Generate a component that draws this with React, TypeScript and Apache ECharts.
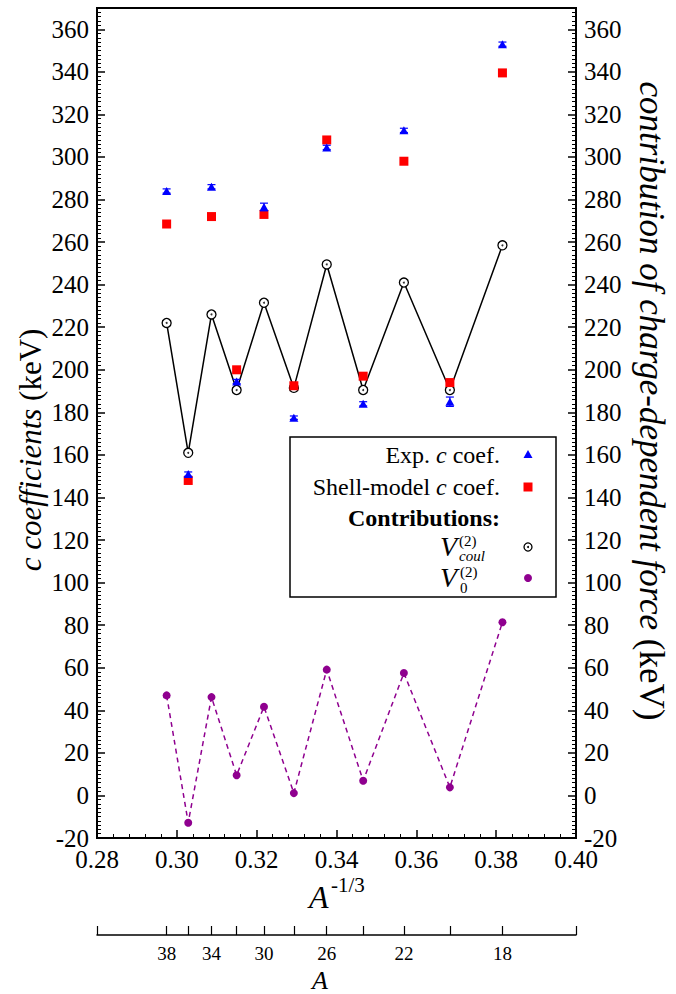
import React, { useEffect, useRef } from "react";
import * as echarts from "echarts";

// Mass numbers A of the points (x position = A^-1/3)
const massNumbers = [38, 36, 34, 32, 30, 28, 26, 24, 22, 20, 18];
// Experimental c coefficients (keV) and their uncertainties
const expC = [284, 151, 286, 194.5, 276.5, 177.5, 304.5, 184, 312.5, 185, 353];
const expErr = [1, 1, 1, 1, 1.8, 0.8, 1, 1, 1, 2.2, 1];
// Shell-model c coefficients (keV)
const smC = [268.5, 148, 272, 200, 273, 192.5, 308, 197, 298, 194, 339.5];
// Contribution V_coul^(2) (keV)
const vCoul = [222, 161, 226, 190.5, 231.5, 191.5, 249.5, 190.5, 241, 190.5, 258.5];
// Contribution V_0^(2) (keV)
const v0 = [47, -12.8, 46.2, 9.5, 41.7, 1.1, 59.1, 6.9, 57.5, 3.8, 81.4];
// Secondary axis (A) ticks and labels
const aTicks = [38, 36, 34, 32, 30, 28, 26, 24, 22, 20, 18];
const aLabels = [38, 34, 30, 26, 22, 18];

const FONT = "Liberation Serif";

const toX = (a: number) => Math.pow(a, -1 / 3);

export default function App() {
  const ref = useRef<HTMLDivElement>(null);
  useEffect(() => {
    if (!ref.current) return;
    const chart = echarts.init(ref.current, undefined, { renderer: "svg" });
    const xs = massNumbers.map(toX);
    const pairs = (vals: number[]) => vals.map((v, i) => [xs[i], v]);

    const tickStyle = { color: "#000", width: 1.5 };
    const axisLineStyle = { color: "#000", width: 2 };

    const yAxisCommon = (pos: "left" | "right") => ({
      type: "value",
      gridIndex: 0,
      position: pos,
      min: -20,
      max: 370,
      interval: 20,
      axisLine: { show: true, onZero: false, lineStyle: axisLineStyle },
      axisTick: { show: true, inside: true, length: 8, lineStyle: tickStyle },
      minorTick: { show: true, splitNumber: 10, length: 4, lineStyle: { color: "#000", width: 1 } },
      splitLine: { show: false },
      minorSplitLine: { show: false },
      axisLabel: { color: "#000", fontFamily: FONT, fontSize: 25, margin: 8, showMaxLabel: false },
    });

    const txt = (x: number, y: number, text: string, opts: any = {}) => ({
      type: "text",
      x,
      y,
      z: opts.z || 11,
      rotation: opts.rotation || 0,
      style: {
        text,
        fill: "#000",
        fontFamily: FONT,
        fontSize: opts.fontSize || 24,
        fontStyle: opts.fontStyle || "normal",
        fontWeight: opts.fontWeight || "normal",
        textAlign: opts.align || "left",
        verticalAlign: "middle",
        rich: opts.rich,
      },
    });

    const richText = (size: number) => ({
      n: { fontFamily: FONT, fontSize: size, fill: "#000" },
      i: { fontFamily: FONT, fontSize: size, fontStyle: "italic", fill: "#000" },
    });

    chart.setOption({
      animation: false,
      backgroundColor: "#fff",
      textStyle: { fontFamily: FONT },
      grid: [
        { left: 97, top: 8, width: 479, height: 830, show: true, borderColor: "#000", borderWidth: 2, backgroundColor: "transparent" },
        { left: 97, top: 900, width: 479, height: 35, show: false },
      ],
      xAxis: [
        {
          type: "value",
          gridIndex: 0,
          min: 0.28,
          max: 0.4,
          interval: 0.02,
          axisLine: { show: true, onZero: false, lineStyle: axisLineStyle },
          axisTick: { show: true, inside: true, length: 8, lineStyle: tickStyle },
          minorTick: { show: true, splitNumber: 5, length: 4, lineStyle: { color: "#000", width: 1 } },
          splitLine: { show: false },
          minorSplitLine: { show: false },
          axisLabel: { color: "#000", fontFamily: FONT, fontSize: 25, margin: 9, formatter: (v: number) => v.toFixed(2) },
        },
        {
          type: "value",
          gridIndex: 1,
          position: "bottom",
          min: 0.28,
          max: 0.4,
          axisLine: { show: true, onZero: false, lineStyle: { color: "#000", width: 1.5 } },
          axisTick: {
            show: true,
            inside: true,
            length: 9,
            lineStyle: { color: "#000", width: 1.2 },
            customValues: [0.28, ...aTicks.map(toX), 0.4],
          },
          axisLabel: {
            show: true,
            color: "#000",
            fontFamily: FONT,
            fontSize: 19,
            margin: 9,
            customValues: aLabels.map(toX),
            formatter: (v: number) => String(Math.round(Math.pow(v, -3))),
          },
          splitLine: { show: false },
        },
      ],
      yAxis: [
        yAxisCommon("left"),
        yAxisCommon("right"),
        { type: "value", gridIndex: 1, show: false, min: 0, max: 1 },
      ],
      series: [
        {
          name: "V0",
          type: "line",
          xAxisIndex: 0,
          yAxisIndex: 0,
          data: pairs(v0),
          symbol: "circle",
          symbolSize: 8,
          itemStyle: { color: "#8f008f" },
          lineStyle: { color: "#8f008f", width: 1.5, type: [5, 4] },
          z: 3,
        },
        {
          name: "Vcoul",
          type: "line",
          xAxisIndex: 0,
          yAxisIndex: 0,
          data: pairs(vCoul),
          symbol: "circle",
          symbolSize: 9,
          itemStyle: { color: "#fff", borderColor: "#000", borderWidth: 1.3 },
          lineStyle: { color: "#000", width: 1.5 },
          z: 3,
        },
        {
          name: "VcoulDot",
          type: "scatter",
          xAxisIndex: 0,
          yAxisIndex: 0,
          data: pairs(vCoul),
          symbol: "circle",
          symbolSize: 2,
          itemStyle: { color: "#000" },
          z: 4,
        },
        {
          name: "SM",
          type: "scatter",
          xAxisIndex: 0,
          yAxisIndex: 0,
          data: pairs(smC),
          symbol: "rect",
          symbolSize: 9,
          itemStyle: { color: "#ff0000", opacity: 1 },
          z: 5,
        },
        {
          name: "ExpErr",
          type: "custom",
          xAxisIndex: 0,
          yAxisIndex: 0,
          data: expC.map((v, i) => [xs[i], v - expErr[i], v + expErr[i]]),
          renderItem: (params: any, api: any) => {
            const x = api.value(0);
            const lo = api.coord([x, api.value(1)]);
            const hi = api.coord([x, api.value(2)]);
            const w = 4;
            const st = { stroke: "#0000ff", lineWidth: 1.2 };
            return {
              type: "group",
              children: [
                { type: "line", shape: { x1: lo[0], y1: lo[1], x2: hi[0], y2: hi[1] }, style: st },
                { type: "line", shape: { x1: lo[0] - w, y1: lo[1], x2: lo[0] + w, y2: lo[1] }, style: st },
                { type: "line", shape: { x1: hi[0] - w, y1: hi[1], x2: hi[0] + w, y2: hi[1] }, style: st },
              ],
            };
          },
          z: 6,
        },
        {
          name: "Exp",
          type: "scatter",
          xAxisIndex: 0,
          yAxisIndex: 0,
          data: pairs(expC),
          symbol: "triangle",
          symbolSize: [9, 8],
          itemStyle: { color: "#0000ff", opacity: 1 },
          z: 7,
        },
      ],
      graphic: [
        // axis titles
        txt(30, 450, "{i|c coefficients} {n|(keV)}", { rotation: Math.PI / 2, align: "center", fontSize: 31, rich: richText(31) }),
        txt(651, 401, "{i|contribution of charge-dependent force} {n|(keV)}", { rotation: -Math.PI / 2, align: "center", fontSize: 35, rich: richText(35) }),
        txt(309, 897, "A", { fontSize: 32, fontStyle: "italic" }),
        txt(331, 885, "-1/3", { fontSize: 21 }),
        txt(312, 980, "A", { fontSize: 26, fontStyle: "italic" }),
        // legend box
        {
          type: "rect",
          z: 10,
          shape: { x: 290, y: 437, width: 266, height: 160 },
          style: { fill: "#fff", stroke: "#000", lineWidth: 1.5 },
        },
        txt(500, 455, "{n|Exp. }{i|c}{n| coef.}", { align: "right", rich: richText(24) }),
        txt(500, 487, "{n|Shell-model }{i|c}{n| coef.}", { align: "right", rich: richText(24) }),
        txt(500, 518, "Contributions:", { align: "right", fontWeight: "bold" }),
        txt(440, 546, "V", { fontSize: 28, fontStyle: "italic" }),
        txt(459, 541, "(2)", { fontSize: 15 }),
        txt(459, 556, "coul", { fontSize: 15, fontStyle: "italic" }),
        txt(440, 577, "V", { fontSize: 28, fontStyle: "italic" }),
        txt(460, 572, "(2)", { fontSize: 15 }),
        txt(460, 588, "0", { fontSize: 15 }),
        {
          type: "polygon",
          z: 11,
          shape: { points: [[528, 450], [532.5, 458], [523.5, 458]] },
          style: { fill: "#0000ff" },
        },
        { type: "rect", z: 11, shape: { x: 523.5, y: 482.5, width: 9, height: 9 }, style: { fill: "#ff0000" } },
        { type: "circle", z: 11, shape: { cx: 528, cy: 547, r: 4 }, style: { fill: "#fff", stroke: "#000", lineWidth: 1.3 } },
        { type: "circle", z: 12, shape: { cx: 528, cy: 547, r: 1 }, style: { fill: "#000" } },
        { type: "circle", z: 11, shape: { cx: 528, cy: 578, r: 4 }, style: { fill: "#8f008f" } },
      ],
    });
    return () => chart.dispose();
  }, []);
  return (
    <div
      ref={ref}
      style={{ position: "fixed", left: 0, top: 0, width: 676, height: 994, background: "#fff" }}
    />
  );
}
